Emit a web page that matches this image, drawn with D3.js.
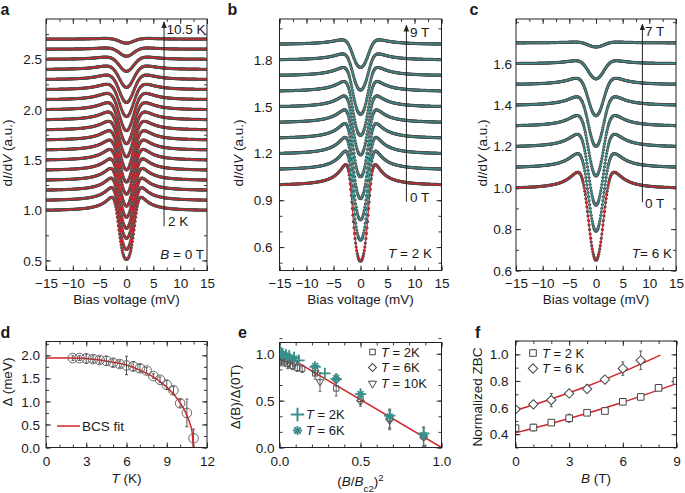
<!DOCTYPE html>
<html><head><meta charset="utf-8">
<script src="https://cdn.jsdelivr.net/npm/d3@7"></script>
<style>
body{margin:0;background:#fff}
text{font-family:"Liberation Sans",Arial,Helvetica,sans-serif;fill:#1a1a1a}
</style>
</head><body>
<svg id="chart" width="685" height="493"></svg>
<script>
// ---------------- DATA ----------------
const biasTicks = [-15, -10, -5, 0, 5, 10, 15];

// panel a : B = 0 T, temperature series
const tempsA  = [2, 2.5, 3, 3.5, 4, 4.5, 5, 5.5, 6, 6.5, 7, 7.5, 8, 8.5, 9, 9.5, 10, 10.5];
const offsetA = [1.0, 1.1, 1.2, 1.3, 1.4, 1.5, 1.6, 1.7, 1.8, 1.9, 2.0, 2.1, 2.2, 2.3, 2.4, 2.5, 2.6, 2.7];
const gapA    = [1.80, 1.80, 1.79, 1.78, 1.77, 1.75, 1.72, 1.69, 1.66, 1.64, 1.60, 1.55, 1.45, 1.37, 1.27, 1.16, 0.90, 0.70];
const gammaA  = [0.90, 0.90, 0.90, 0.90, 0.90, 0.90, 0.90, 0.90, 0.90, 0.90, 0.90, 0.90, 0.90, 0.90, 0.90, 0.90, 0.90, 0.90];
const depthA  = [0.49, 0.49, 0.48, 0.48, 0.47, 0.46, 0.44, 0.42, 0.40, 0.37, 0.34, 0.31, 0.27, 0.23, 0.18, 0.12, 0.07, 0.04];
const ticksAy = [0.5, 1.0, 1.5, 2.0, 2.5];

// panel b : T = 2 K, field series
const fieldsB = [0, 1, 2, 3, 4, 5, 6, 7, 8, 9];
const offsetB = [1.0, 1.1, 1.2, 1.3, 1.4, 1.5, 1.6, 1.7, 1.8, 1.9];
const gapB    = [1.80, 1.80, 1.80, 1.80, 1.80, 1.80, 1.80, 1.80, 1.80, 1.80];
const gammaB  = [0.90, 0.95, 1.00, 1.05, 1.10, 1.15, 1.20, 1.30, 1.40, 1.50];
const depthB  = [0.49, 0.455, 0.425, 0.39, 0.35, 0.31, 0.285, 0.25, 0.195, 0.15];
const ticksBy = [0.6, 0.9, 1.2, 1.5, 1.8];

// panel c : T = 6 K, field series
const fieldsC = [0, 1, 2, 3, 4, 5, 6, 7];
const offsetC = [1.0, 1.1, 1.2, 1.3, 1.4, 1.5, 1.6, 1.7];
const gapC    = [1.75, 1.75, 1.75, 1.75, 1.75, 1.75, 1.75, 1.75];
const gammaC  = [0.90, 0.95, 1.00, 1.05, 1.10, 1.20, 1.30, 1.40];
const depthC  = [0.35, 0.31, 0.284, 0.243, 0.20, 0.152, 0.074, 0.02];
const ticksCy = [0.6, 0.8, 1.0, 1.2, 1.4, 1.6];

// panel d : gap vs temperature
const tempD = [2, 2.5, 3, 3.5, 4, 4.5, 5, 5.5, 6, 6.5, 7, 7.5, 8, 8.5, 9, 9.5, 10, 10.5, 11];
const gapD  = [1.94, 1.94, 1.93, 1.92, 1.90, 1.88, 1.84, 1.81, 1.78, 1.76, 1.72, 1.67, 1.55, 1.47, 1.36, 1.24, 0.96, 0.75, 0.20];
const errD  = [0.05, 0.05, 0.10, 0.07, 0.07, 0.10, 0.08, 0.07, 0.20, 0.10, 0.08, 0.07, 0.05, 0.06, 0.10, 0.08, 0.08, 0.30, 0.20];
const fitTD   = [0, 2, 4, 5, 6, 7, 7.5, 8, 8.5, 9, 9.5, 10, 10.25, 10.5, 10.75, 10.9, 10.97];
const fitGapD = [1.94, 1.94, 1.90, 1.85, 1.79, 1.68, 1.61, 1.53, 1.43, 1.31, 1.16, 0.97, 0.85, 0.70, 0.50, 0.32, 0.0];
const ticksDx = [0, 3, 6, 9, 12];
const ticksDy = [0.0, 0.5, 1.0, 1.5, 2.0];

// panel e : normalized gap vs (B/Bc2)^2
const sqX2K  = [0.00, 0.01, 0.03, 0.05, 0.08, 0.11, 0.14, 0.22, 0.35, 0.50, 0.68, 0.89];
const sqY2K  = [0.93, 0.92, 0.91, 0.89, 0.87, 0.85, 0.84, 0.79, 0.63, 0.52, 0.31, 0.12];
const sqE2K  = [0.05, 0.05, 0.04, 0.05, 0.04, 0.04, 0.04, 0.06, 0.08, 0.06, 0.10, 0.10];
const diaX6K = [0.00, 0.02, 0.05, 0.09, 0.22, 0.35, 0.50, 0.68, 0.89];
const diaY6K = [0.97, 0.96, 0.94, 0.91, 0.82, 0.72, 0.50, 0.30, 0.11];
const diaE6K = [0.04, 0.04, 0.04, 0.05, 0.05, 0.06, 0.06, 0.10, 0.10];
const triX10K = [0.00, 0.06, 0.25, 0.68];
const triY10K = [0.96, 0.90, 0.70, 0.29];
const triE10K = [0.05, 0.05, 0.10, 0.10];
const plusX2K = [0.00, 0.01, 0.02, 0.04, 0.06, 0.09, 0.12, 0.22, 0.28, 0.35, 0.50, 0.68, 0.89];
const plusY2K = [1.02, 1.01, 1.00, 0.99, 0.98, 0.96, 0.93, 0.86, 0.79, 0.73, 0.57, 0.34, 0.15];
const astX6K = [0.00, 0.02, 0.05, 0.09, 0.22, 0.35, 0.50, 0.68, 0.89];
const astY6K = [1.00, 0.99, 0.97, 0.95, 0.87, 0.74, 0.57, 0.33, 0.13];
const fitXE = [0, 1];
const fitYE = [1.02, 0];
const ticksEx = [0.0, 0.5, 1.0];
const ticksEy = [0.0, 0.5, 1.0];

// panel f : normalized zero-bias conductance vs B
const fieldF = [0, 1, 2, 3, 4, 5, 6, 7, 8, 9];
const zbc2K  = [0.445, 0.45, 0.487, 0.52, 0.561, 0.574, 0.643, 0.68, 0.748, 0.80];
const err2K  = [0.02, 0.025, 0.015, 0.03, 0.015, 0.02, 0.015, 0.015, 0.015, 0.015];
const field6K = [0, 1, 2, 3, 4, 5, 6, 7];
const zbc6K  = [0.587, 0.624, 0.656, 0.706, 0.74, 0.81, 0.893, 0.955];
const err6K  = [0.02, 0.015, 0.05, 0.02, 0.03, 0.02, 0.05, 0.07];
const fitB2K = [0, 3, 6, 9];
const fitZ2K = [0.41, 0.518, 0.64, 0.78];
const fitB6K = [0, 2, 4, 6, 8.1];
const fitZ6K = [0.578, 0.664, 0.76, 0.868, 0.994];
const ticksFx = [0, 3, 6, 9];
const ticksFy = [0.4, 0.6, 0.8, 1.0];

// ---------------- STYLE ----------------
const RED = "#d2262c", TEAL = "#3a8f8c", DOT = "#4f4f4f", INK = "#222";
const FS = 13.5;
const svg = d3.select("#chart");

const P = {
  a: {x0: 46, x1: 207, y0: 19, y1: 270.5},
  b: {x0: 279.5, x1: 441.5, y0: 19, y1: 270.5},
  c: {x0: 516, x1: 676, y0: 19, y1: 270.5},
  d: {x0: 46, x1: 207, y0: 341.5, y1: 447.5},
  e: {x0: 279.5, x1: 441.5, y0: 342.5, y1: 447.5},
  f: {x0: 515.5, x1: 676.5, y0: 341, y1: 447.5}
};

let clipId = 0;
function panel(p, xDom, yDom, xMaj, xMin, yMaj, yMin, xFmt, yFmt, xPad, yPad) {
  const x = d3.scaleLinear().domain(xDom).range([p.x0, p.x1]);
  const y = d3.scaleLinear().domain(yDom).range([p.y1, p.y0]);
  const g = svg.append("g");
  const add = (axis, tr) => {
    const a = g.append("g").attr("transform", tr).call(axis);
    a.select(".domain").remove();
    a.selectAll("line").attr("stroke", INK).attr("stroke-width", 0.9);
    a.selectAll("text").attr("font-size", FS).attr("font-family", "Liberation Sans, Arial, sans-serif").attr("fill", INK);
    return a;
  };
  add(d3.axisBottom(x).tickValues(xMaj).tickSizeInner(-5).tickSizeOuter(0).tickPadding(xPad).tickFormat(xFmt), `translate(0,${p.y1})`);
  add(d3.axisBottom(x).tickValues(xMin).tickSizeInner(-3).tickSizeOuter(0).tickFormat(""), `translate(0,${p.y1})`);
  add(d3.axisTop(x).tickValues(xMaj).tickSizeInner(-5).tickSizeOuter(0).tickFormat(""), `translate(0,${p.y0})`);
  add(d3.axisTop(x).tickValues(xMin).tickSizeInner(-3).tickSizeOuter(0).tickFormat(""), `translate(0,${p.y0})`);
  add(d3.axisLeft(y).tickValues(yMaj).tickSizeInner(-5).tickSizeOuter(0).tickPadding(yPad).tickFormat(yFmt), `translate(${p.x0},0)`)
    .selectAll("text").attr("dy", "0.34em");
  add(d3.axisLeft(y).tickValues(yMin).tickSizeInner(-3).tickSizeOuter(0).tickFormat(""), `translate(${p.x0},0)`);
  add(d3.axisRight(y).tickValues(yMaj).tickSizeInner(-5).tickSizeOuter(0).tickFormat(""), `translate(${p.x1},0)`);
  add(d3.axisRight(y).tickValues(yMin).tickSizeInner(-3).tickSizeOuter(0).tickFormat(""), `translate(${p.x1},0)`);
  const id = "clip" + (clipId++);
  svg.append("clipPath").attr("id", id).append("rect")
    .attr("x", p.x0).attr("y", p.y0).attr("width", p.x1 - p.x0).attr("height", p.y1 - p.y0);
  const plot = svg.append("g").attr("clip-path", `url(#${id})`);
  const top = svg.append("g");
  top.append("rect").attr("x", p.x0).attr("y", p.y0).attr("width", p.x1 - p.x0).attr("height", p.y1 - p.y0)
    .attr("fill", "none").attr("stroke", INK).attr("stroke-width", 1);
  return {x, y, plot, top};
}

function step(a, b, s) { return d3.range(a, b + s / 2, s); }
const f1 = d3.format(".1f"), fd = d3.format("d");

function rich(parent, parts, x, y, opts = {}) {
  const size = opts.size || FS;
  const t = parent.append("text").attr("x", x).attr("y", y)
    .attr("font-size", size).attr("text-anchor", opts.anchor || "start");
  if (opts.rotate) t.attr("transform", `rotate(-90,${x},${y})`);
  if (opts.dy) t.attr("dy", opts.dy);
  parts.forEach(pt => {
    const s = t.append("tspan").text(pt.t);
    if (pt.i) s.attr("font-style", "italic");
    if (pt.sub) s.attr("baseline-shift", "sub").attr("font-size", size * 0.72);
    if (pt.sup) s.attr("baseline-shift", "super").attr("font-size", size * 0.72);
  });
  return t;
}

// ---------------- spectrum model (Dynes DOS, thermally smeared) ----------------
function dynes(E, D, G) {
  const zr = E * E - G * G - D * D, zi = -2 * E * G;
  const m = Math.hypot(zr, zi);
  const sr = Math.sqrt(Math.max(0, (m + zr) / 2));
  let si = Math.sqrt(Math.max(0, (m - zr) / 2));
  if (zi < 0) si = -si;
  const den = sr * sr + si * si;
  return Math.abs((E * sr - G * si) / den);
}
function smeared(V, D, G, T) {
  const kT = 0.08617 * T, h = Math.min(0.05, kT / 3);
  let s = 0, w = 0;
  for (let x = -10 * kT; x <= 10 * kT; x += h) {
    const c = Math.cosh(x / (2 * kT));
    const f = 1 / (c * c);
    s += dynes(V + x, D, G) * f; w += f;
  }
  return s / w;
}
const biasGrid = step(0, 15, 0.1);

function drawSpectra(pn, offsets, gaps, gammas, temps, depths, colorFn) {
  const line = d3.line().x(d => pn.x(d[0])).y(d => pn.y(d[1]));
  offsets.forEach((off, i) => {
    const T = temps[i];
    const half = biasGrid.map(v => smeared(v, gaps[i], gammas[i], T));
    const g0 = half[0], gInf = half[half.length - 1];
    const amp = depths[i] / (gInf - g0);
    const pos = biasGrid.map((v, k) => [v, off + amp * (half[k] - gInf)]);
    const pts = pos.slice(1).map(d => [-d[0], d[1]]).reverse().concat(pos);
    pn.plot.append("g").selectAll("circle").data(pts).join("circle")
      .attr("cx", d => pn.x(d[0])).attr("cy", d => pn.y(d[1])).attr("r", 1.6).attr("fill", DOT);
    pn.plot.append("path").datum(pts).attr("d", line).attr("fill", "none")
      .attr("stroke", colorFn(i)).attr("stroke-width", 1.2);
  });
}

svg.append("defs").append("marker").attr("id", "arr").attr("viewBox", "0 0 10 10")
  .attr("refX", 9).attr("refY", 5).attr("markerWidth", 7).attr("markerHeight", 7)
  .attr("markerUnits", "userSpaceOnUse").attr("orient", "auto")
  .append("path").attr("d", "M0,1 L10,5 L0,9 Z").attr("fill", INK);

function arrow(pn, v, yLo, yHi) {
  pn.top.append("line").attr("x1", pn.x(v)).attr("x2", pn.x(v))
    .attr("y1", pn.y(yLo)).attr("y2", pn.y(yHi)).attr("stroke", INK).attr("stroke-width", 1)
    .attr("marker-end", "url(#arr)");
}

// ---------------- PANEL a ----------------
const pa = panel(P.a, [-15, 15], [0.4, 2.9], biasTicks, step(-15, 15, 2.5), ticksAy, step(0.5, 2.75, 0.25), fd, f1, 8, 4);
drawSpectra(pa, offsetA, gapA, gammaA, tempsA, depthA, () => RED);
arrow(pa, 7, 0.84, 2.87);
rich(pa.top, [{t: "10.5 K"}], 166.5, 34);
rich(pa.top, [{t: "2 K"}], 168, 226);
rich(pa.top, [{t: "B", i: 1}, {t: " = 0 T"}], 204, 259, {anchor: "end"});

// ---------------- PANEL b ----------------
const pb = panel(P.b, [-15, 15], [0.45, 2.06], biasTicks, step(-15, 15, 2.5), ticksBy, step(0.5, 2.0, 0.1), fd, f1, 8, 7);
drawSpectra(pb, offsetB, gapB, gammaB, fieldsB.map(() => 2), depthB, i => i === 0 ? RED : TEAL);
arrow(pb, 8.5, 0.89, 2.02);
rich(pb.top, [{t: "9 T"}], 410, 36.5);
rich(pb.top, [{t: "0 T"}], 410, 201.5);
rich(pb.top, [{t: "T", i: 1}, {t: " = 2 K"}], 432, 258, {anchor: "end"});

// ---------------- PANEL c ----------------
const pc = panel(P.c, [-15, 15], [0.6, 1.815], biasTicks, step(-15, 15, 2.5), ticksCy, step(0.6, 1.8, 0.1), fd, f1, 8, 4);
drawSpectra(pc, offsetC, gapC, gammaC, fieldsC.map(() => 6), depthC, i => i === 0 ? RED : TEAL);
arrow(pc, 8.7, 0.93, 1.79);
rich(pc.top, [{t: "7 T"}], 645, 35.5);
rich(pc.top, [{t: "0 T"}], 645, 208);
rich(pc.top, [{t: "T", i: 1}, {t: "= 6 K"}], 672, 258, {anchor: "end"});

[[126.5, 7.5], [360.5, 238], [596, 482]].forEach(([cx, lyy]) => {
  rich(svg, [{t: "Bias voltage (mV)"}], cx, 304, {anchor: "middle"});
  rich(svg, [{t: "d"}, {t: "I", i: 1}, {t: "/d"}, {t: "V", i: 1}, {t: " (a.u.)"}], lyy, 153, {anchor: "middle", rotate: 1, dy: "0.35em"});
});

// ---------------- PANEL d ----------------
const pd = panel(P.d, [0, 12], [0, 2.3], ticksDx, step(0, 12, 1), ticksDy, step(0, 2.25, 0.25), fd, f1, 9, 6);
tempD.forEach((t, i) => {
  const x = pd.x(t);
  pd.plot.append("line").attr("x1", x).attr("x2", x).attr("y1", pd.y(gapD[i] - errD[i])).attr("y2", pd.y(gapD[i] + errD[i]))
    .attr("stroke", "#555").attr("stroke-width", 1);
  [gapD[i] - errD[i], gapD[i] + errD[i]].forEach(v => pd.plot.append("line").attr("x1", x - 1.5).attr("x2", x + 1.5)
    .attr("y1", pd.y(v)).attr("y2", pd.y(v)).attr("stroke", "#555").attr("stroke-width", 1));
});
pd.plot.append("path").datum(fitTD.map((t, i) => [t, fitGapD[i]]))
  .attr("d", d3.line().x(d => pd.x(d[0])).y(d => pd.y(d[1])).curve(d3.curveMonotoneX))
  .attr("fill", "none").attr("stroke", RED).attr("stroke-width", 1.5);
pd.plot.selectAll("circle.dp").data(tempD).join("circle").attr("class", "dp")
  .attr("cx", d => pd.x(d)).attr("cy", (d, i) => pd.y(gapD[i])).attr("r", 4.8)
  .attr("fill", "none").attr("stroke", "#555").attr("stroke-width", 0.9);
pd.top.append("line").attr("x1", 57).attr("x2", 80).attr("y1", 426).attr("y2", 426).attr("stroke", RED).attr("stroke-width", 1.5);
rich(pd.top, [{t: "BCS fit"}], 82, 430.5);
rich(svg, [{t: "T", i: 1}, {t: " (K)"}], 126.5, 483, {anchor: "middle"});
rich(svg, [{t: "Δ (meV)"}], 7.5, 382, {anchor: "middle", rotate: 1, dy: "0.35em"});

// ---------------- PANEL e ----------------
const pe = panel(P.e, [0, 1], [0, 1.12], ticksEx, step(0, 1, 0.1), ticksEy, step(0, 1.1, 0.5 / 3), f1, f1, 9, 5);
function errBars(pn, xs, ys, es, col) {
  xs.forEach((xv, i) => {
    pn.plot.append("line").attr("x1", pn.x(xv)).attr("x2", pn.x(xv))
      .attr("y1", pn.y(ys[i] - es[i])).attr("y2", pn.y(ys[i] + es[i])).attr("stroke", col).attr("stroke-width", 1);
    [ys[i] - es[i], ys[i] + es[i]].forEach(v => pn.plot.append("line").attr("x1", pn.x(xv) - 1.5).attr("x2", pn.x(xv) + 1.5)
      .attr("y1", pn.y(v)).attr("y2", pn.y(v)).attr("stroke", col).attr("stroke-width", 1));
  });
}
function marks(parent, xs, ys, sx, sy, sym, size, rot, col, sw, fill) {
  parent.selectAll(null).data(xs).join("path")
    .attr("transform", (d, i) => `translate(${sx(d)},${sy(ys[i])}) rotate(${rot})`)
    .attr("d", d3.symbol().type(sym).size(size))
    .attr("fill", fill || "none").attr("stroke", col).attr("stroke-width", sw);
}
const asterisk = {draw(ctx, size) {
  const r = Math.sqrt(size) / 2;
  for (let k = 0; k < 4; k++) {
    const a = k * Math.PI / 4;
    ctx.moveTo(-r * Math.cos(a), -r * Math.sin(a)); ctx.lineTo(r * Math.cos(a), r * Math.sin(a));
  }
}};
errBars(pe, sqX2K, sqY2K, sqE2K, "#666");
errBars(pe, diaX6K, diaY6K, diaE6K, "#666");
errBars(pe, triX10K, triY10K, triE10K, "#666");
pe.plot.append("path").datum(fitXE.map((v, i) => [v, fitYE[i]]))
  .attr("d", d3.line().x(d => pe.x(d[0])).y(d => pe.y(d[1]))).attr("fill", "none").attr("stroke", RED).attr("stroke-width", 1.5);
marks(pe.plot, sqX2K, sqY2K, pe.x, pe.y, d3.symbolSquare2, 36, 0, "#555", 1);
marks(pe.plot, diaX6K, diaY6K, pe.x, pe.y, d3.symbolSquare2, 36, 45, "#555", 1);
marks(pe.plot, triX10K, triY10K, pe.x, pe.y, d3.symbolTriangle2, 40, 180, "#555", 1);
marks(pe.plot, plusX2K, plusY2K, pe.x, pe.y, d3.symbolPlus, 45, 0, TEAL, 1.8);
marks(pe.plot, astX6K, astY6K, pe.x, pe.y, asterisk, 70, 0, TEAL, 1.7);
const lx = d3.scaleLinear(), ly = d3.scaleLinear();
marks(pe.top, [372.5], [352], lx, ly, d3.symbolSquare2, 40, 0, "#444", 1);
marks(pe.top, [372.5], [367.5], lx, ly, d3.symbolSquare2, 40, 45, "#444", 1);
marks(pe.top, [372.5], [383.5], lx, ly, d3.symbolTriangle2, 46, 180, "#444", 1);
rich(pe.top, [{t: "T", i: 1}, {t: " = 2K"}], 381, 356.5, {size: 13});
rich(pe.top, [{t: "T", i: 1}, {t: " = 6K"}], 381, 372, {size: 13});
rich(pe.top, [{t: "T", i: 1}, {t: " = 10K"}], 381, 388, {size: 13});
marks(pe.top, [297.5], [414.5], lx, ly, d3.symbolPlus, 60, 0, TEAL, 2);
marks(pe.top, [297.5], [430.5], lx, ly, asterisk, 85, 0, TEAL, 1.8);
rich(pe.top, [{t: "T", i: 1}, {t: " = 2K"}], 306, 419, {size: 13});
rich(pe.top, [{t: "T", i: 1}, {t: " = 6K"}], 306, 435, {size: 13});
rich(svg, [{t: "("}, {t: "B", i: 1}, {t: "/"}, {t: "B", i: 1}, {t: "c2", sub: 1}, {t: ")"}, {t: "2", sup: 1}], 360.5, 486, {anchor: "middle"});
rich(svg, [{t: "Δ(B)/Δ(0T)"}], 235.5, 397, {anchor: "middle", rotate: 1, dy: "0.35em"});

// ---------------- PANEL f ----------------
const pf = panel(P.f, [0, 9], [0.3, 1.1], ticksFx, step(0, 9, 1), ticksFy, step(0.3, 1.1, 0.1), fd, f1, 9, 7);
errBars(pf, fieldF, zbc2K, err2K, "#555");
errBars(pf, field6K, zbc6K, err6K, "#555");
const lf = d3.line().x(d => pf.x(d[0])).y(d => pf.y(d[1])).curve(d3.curveMonotoneX);
pf.plot.append("path").datum(fitB2K.map((b, i) => [b, fitZ2K[i]])).attr("d", lf).attr("fill", "none").attr("stroke", RED).attr("stroke-width", 1.5);
pf.plot.append("path").datum(fitB6K.map((b, i) => [b, fitZ6K[i]])).attr("d", lf).attr("fill", "none").attr("stroke", RED).attr("stroke-width", 1.5);
marks(pf.plot, fieldF, zbc2K, pf.x, pf.y, d3.symbolSquare2, 56, 0, "#444", 1, "#fff");
marks(pf.plot, field6K, zbc6K, pf.x, pf.y, d3.symbolSquare2, 56, 45, "#444", 1, "#fff");
marks(pf.top, [533], [353], lx, ly, d3.symbolSquare2, 56, 0, "#444", 1);
marks(pf.top, [533], [368.5], lx, ly, d3.symbolSquare2, 56, 45, "#444", 1);
rich(pf.top, [{t: "T", i: 1}, {t: " = 2 K"}], 542, 357.5, {size: 13});
rich(pf.top, [{t: "T", i: 1}, {t: " = 6 K"}], 542, 373, {size: 13});
rich(svg, [{t: "B", i: 1}, {t: " (T)"}], 596, 483, {anchor: "middle"});
rich(svg, [{t: "Normalized ZBC"}], 477, 397, {anchor: "middle", rotate: 1, dy: "0.35em"});

// ---------------- panel letters ----------------
[["a", 0.5, 14.5], ["b", 227.5, 14.5], ["c", 469.5, 14.5], ["d", 0.5, 338], ["e", 238, 338], ["f", 475, 338]].forEach(([l, x, y]) =>
  svg.append("text").attr("x", x).attr("y", y).attr("font-size", 16).attr("font-weight", "bold").text(l));
</script>
</body></html>
